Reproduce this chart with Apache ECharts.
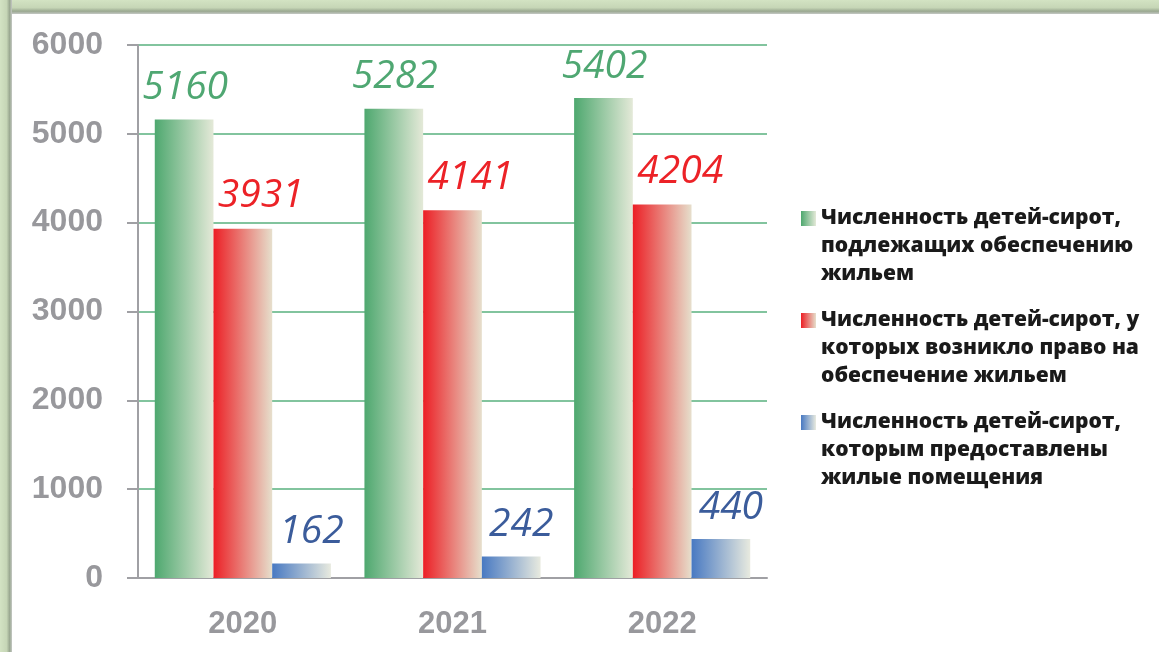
<!DOCTYPE html>
<html><head><meta charset="utf-8">
<script src="https://cdn.jsdelivr.net/npm/echarts@6/dist/echarts.min.js"></script>
<style>html,body{margin:0;padding:0;background:#fff}#c{width:1159px;height:652px}</style>
</head><body><div id="c"></div>
<script>
const categories = ['2020', '2021', '2022'];
const seriesNames = [
  'Численность детей-сирот,\nподлежащих обеспечению\nжильем',
  'Численность детей-сирот, у\nкоторых возникло право на\nобеспечение жильем',
  'Численность детей-сирот,\nкоторым предоставлены\nжилые помещения'
];
const needHousing = [5160, 5282, 5402];
const entitled = [3931, 4141, 4204];
const provided = [162, 242, 440];
const yTicks = [0, 1000, 2000, 3000, 4000, 5000, 6000];

function grad(c1, c2) {
  return new echarts.graphic.LinearGradient(0, 0, 1, 0, [
    {offset: 0, color: c1}, {offset: 1, color: c2}
  ]);
}
const colors = [
  grad('#4ea86f', '#e4e9d8'),
  grad('#ec1f25', '#e6dfcc'),
  grad('#4879c2', '#e8eadf')
];
const labelColors = ['#4fa772', '#ec2227', '#3b5c9b'];
const labelOffsets = [[1, 0], [18, 0], [10, 0]];
const values = [needHousing, entitled, provided];

const chart = echarts.init(document.getElementById('c'), null, {renderer: 'canvas'});
chart.setOption({
  animation: false,
  backgroundColor: '#ffffff',
  graphic: [
    {type: 'rect', shape: {x: 0, y: 0, width: 1159, height: 14}, z: 100,
      style: {fill: new echarts.graphic.LinearGradient(0, 0, 0, 1, [
        {offset: 0, color: '#d3e3c3'}, {offset: 0.55, color: '#c6d6b6'},
        {offset: 0.8, color: '#9aa890'}, {offset: 1, color: '#c4c8c4'}])}},
    {type: 'rect', shape: {x: 0, y: 0, width: 12, height: 652}, z: 100,
      style: {fill: new echarts.graphic.LinearGradient(0, 0, 1, 0, [
        {offset: 0, color: '#d3e3c3'}, {offset: 0.55, color: '#c6d6b6'},
        {offset: 0.8, color: '#9aa890'}, {offset: 1, color: '#c4c8c4'}])}}
  ],
  grid: {left: 138, right: 392, top: 45, bottom: 74},
  legend: {
    orient: 'vertical', left: 796, top: 199, itemGap: 18,
    itemWidth: 15, itemHeight: 70,
    icon: 'path://M0,0 h15 v15 h-15 Z M0,70 h0.01 v0.01 h-0.01 Z',
    itemStyle: {borderWidth: 0},
    textStyle: {fontFamily: 'Open Sans', fontWeight: 800, fontSize: 21, color: '#1a1a1a', lineHeight: 28, padding: [0, 0, 0, 0]},
    data: seriesNames
  },
  xAxis: {
    type: 'category', data: categories,
    axisLine: {lineStyle: {color: '#a0a0a4', width: 2}},
    axisTick: {length: 10, lineStyle: {color: '#a0a0a4', width: 2}},
    axisLabel: {margin: 31, fontFamily: 'Liberation Sans', fontWeight: 'bold', fontSize: 31, color: '#98989c'}
  },
  yAxis: {
    type: 'value', min: 0, max: 6000, interval: 1000,
    axisLine: {show: true, lineStyle: {color: '#a0a0a4', width: 2}},
    axisTick: {show: true, length: 11, lineStyle: {color: '#a0a0a4', width: 2}},
    splitLine: {lineStyle: {color: '#82c49e', width: 2}},
    axisLabel: {margin: 35, fontFamily: 'Liberation Sans', fontWeight: 'bold', fontSize: 32, color: '#98989c',
      formatter: v => yTicks.includes(v) ? String(v) : ''}
  },
  series: values.map((arr, i) => ({
    type: 'bar', name: seriesNames[i], data: arr,
    barGap: '0%', barCategoryGap: '16%',
    itemStyle: {color: colors[i]},
    label: {show: true, position: 'top', distance: i === 1 ? 13 : 12, offset: labelOffsets[i],
      fontFamily: 'Open Sans', fontStyle: 'italic', fontSize: 39, color: labelColors[i]}
  }))
});
</script></body></html>
